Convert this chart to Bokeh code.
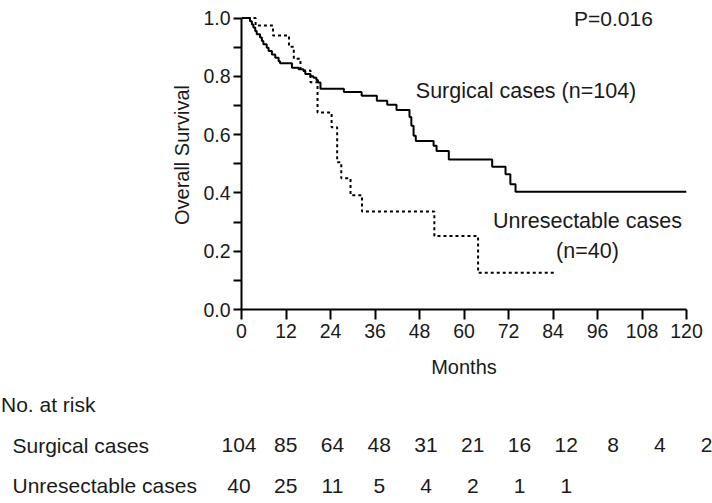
from bokeh.plotting import figure
from bokeh.models import Range1d, FixedTicker, PrintfTickFormatter, ColumnDataSource
from bokeh.core.properties import value
from bokeh.embed import file_html
from bokeh.resources import INLINE

# ---- data ----
surg_time = [0, 2.3, 2.8, 3.2, 3.7, 4.1, 5.0, 5.5, 5.9, 6.8, 7.3, 8.2, 9.1, 10.0, 10.4,
             13.6, 15.4, 16.7, 17.2, 18.6, 19.4, 20.2, 20.6, 21.3, 27.6, 32.4, 36.5,
             39.3, 41.8, 45.3, 45.8, 46.4, 47.0, 51.8, 52.6, 55.9, 67.6, 71.2, 72.5,
             73.9, 120]
surg_surv = [1.0, 0.989, 0.978, 0.967, 0.955, 0.944, 0.933, 0.921, 0.910, 0.898, 0.887,
             0.875, 0.864, 0.852, 0.845, 0.829, 0.824, 0.818, 0.808, 0.800, 0.795, 0.787,
             0.779, 0.757, 0.746, 0.733, 0.716, 0.702, 0.684, 0.660, 0.630, 0.596, 0.578,
             0.562, 0.544, 0.515, 0.490, 0.464, 0.430, 0.404, 0.404]
unres_time = [0, 3.8, 8.5, 12.8, 14.1, 15.9, 18.6, 20.5, 24.3, 25.8, 26.9, 29.4, 32.5,
              52.0, 63.8, 85.0]
unres_surv = [1.0, 0.974, 0.940, 0.901, 0.860, 0.820, 0.780, 0.676, 0.625, 0.505, 0.450,
              0.392, 0.336, 0.252, 0.126, 0.126]

month_ticks = [0, 12, 24, 36, 48, 60, 72, 84, 96, 108, 120]
surv_ticks = [0.0, 0.2, 0.4, 0.6, 0.8, 1.0]
surv_minor = [0.1, 0.3, 0.5, 0.7, 0.9]

risk_rows = ["Surgical cases", "Unresectable cases"]
risk_surg = [104, 85, 64, 48, 31, 21, 16, 12, 8, 4, 2]
risk_unres = [40, 25, 11, 5, 4, 2, 1, 1]

p_text = "P=0.016"
surg_label = "Surgical cases (n=104)"
unres_label1 = "Unresectable cases"
unres_label2 = "(n=40)"

FONT = "Liberation Sans"
TXT = "#1a1a1a"
W = 712
H1 = 385
H2 = 118

# ---- KM plot ----
frame_h = H1 - 76
p = figure(width=W, height=H1, output_backend="svg", toolbar_location=None,
           x_range=Range1d(0, 120), y_range=Range1d(0, frame_h / 291.5),
           min_border_left=241, min_border_right=26, min_border_top=0,
           min_border_bottom=76)
p.outline_line_color = None
p.xgrid.grid_line_color = None
p.ygrid.grid_line_color = None

p.step(surg_time, surg_surv, mode="after", line_color="black", line_width=2)
p.step(unres_time, unres_surv, mode="after", line_color="black", line_width=2,
       line_dash="3 3")

p.text(x=[100.3], y=[1.0], text=[p_text], text_font=value(FONT), text_font_size="21px",
       text_align="center", text_baseline="middle", text_color=TXT)
p.text(x=[47], y=[0.749], text=[surg_label], text_font=value(FONT), text_font_size="21.5px",
       text_align="left", text_baseline="middle", text_color=TXT)
p.text(x=[93.3, 93.3], y=[0.302, 0.199], text=[unres_label1, unres_label2],
       text_font=value(FONT), text_font_size="21.5px",
       text_align="center", text_baseline="middle", text_color=TXT)

for ax in (p.xaxis[0], p.yaxis[0]):
    ax.axis_line_width = 2
    ax.axis_line_color = "black"
    ax.major_tick_line_width = 2
    ax.minor_tick_line_width = 2
    ax.major_label_text_font = FONT
    ax.major_label_text_font_size = "19.5px"
    ax.major_label_text_color = TXT
    ax.axis_label_text_font = FONT
    ax.axis_label_text_font_size = "20px"
    ax.axis_label_text_font_style = "normal"
    ax.axis_label_text_color = TXT

p.xaxis.ticker = FixedTicker(ticks=month_ticks)
p.xaxis.major_tick_in = 0
p.xaxis.major_tick_out = 10
p.xaxis.minor_tick_out = 0
p.xaxis.major_label_standoff = 4
p.xaxis.axis_label = "Months"
p.xaxis.axis_label_standoff = 15

p.yaxis.ticker = FixedTicker(ticks=surv_ticks, minor_ticks=surv_minor)
p.yaxis.formatter = PrintfTickFormatter(format="%.1f")
p.yaxis.major_tick_in = 0
p.yaxis.major_tick_out = 8
p.yaxis.minor_tick_in = 0
p.yaxis.minor_tick_out = 8
p.yaxis.bounds = (0, 1)
p.yaxis.major_label_standoff = 3
p.yaxis.axis_label = "Overall Survival"
p.yaxis.axis_label_standoff = 7

# ---- number-at-risk table (separate root, no frame alignment) ----
col_w = 46.75
col0 = 238.5
xs = -col0 / col_w
row_h = 40.5
row0 = 19.0
t = figure(width=W, height=H2, output_backend="svg", toolbar_location=None,
           x_range=Range1d(xs, xs + W / col_w),
           y_range=Range1d(start=(H2 - row0) / row_h, end=-row0 / row_h),
           min_border=0)
t.outline_line_color = None
t.xgrid.grid_line_color = None
t.ygrid.grid_line_color = None
t.xaxis.visible = False
t.yaxis.visible = False

t.text(x=[xs + 0.5 / col_w], y=[0], text=["No. at risk"], text_font=value(FONT),
       text_font_size="21px", text_align="left", text_baseline="middle",
       text_color=TXT)
t.text(x=[xs + 12 / col_w] * 2, y=[1, 2], text=risk_rows, text_font=value(FONT),
       text_font_size="21px", text_align="left", text_baseline="middle",
       text_color=TXT)

src_s = ColumnDataSource(dict(x=list(range(len(risk_surg))), y=[1] * len(risk_surg),
                              t=[str(v) for v in risk_surg]))
src_u = ColumnDataSource(dict(x=list(range(len(risk_unres))), y=[2] * len(risk_unres),
                              t=[str(v) for v in risk_unres]))
for src in (src_s, src_u):
    t.text(x="x", y="y", text="t", source=src, text_font=value(FONT),
           text_font_size="21px", text_align="center", text_baseline="middle",
           text_color=TXT)

open("out.html", "w").write(file_html([p, t], INLINE))
